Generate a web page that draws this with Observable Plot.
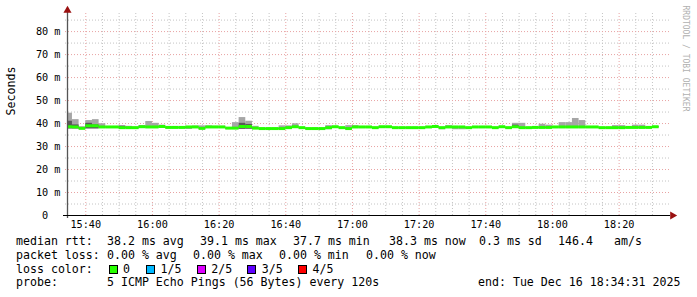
<!DOCTYPE html>
<html><head><meta charset="utf-8">
<script src="https://cdn.jsdelivr.net/npm/d3@7"></script>
<script src="https://cdn.jsdelivr.net/npm/@observablehq/plot@0.6"></script>
<style>
body{margin:0;background:#fff;}
#wrap{position:relative;width:697px;height:297px;overflow:hidden;font-family:"DejaVu Sans Mono",monospace;background:#fff;}
#wrap svg{position:absolute;left:0;top:0;}
.t{position:absolute;font-size:11.6px;line-height:14px;white-space:pre;color:#000;}
.sw{position:absolute;width:7px;height:7px;border:1px solid #000;}
</style></head><body><div id="wrap"></div>
<script>
// ---- data ----
const dayISO = "2025-12-16";
const firstStep = "15:34:00", lastStepEnd = "18:32:00", stepMinutes = 2;
const viewStart = "15:34:31", viewEnd = "18:34:31";

const rttMedian = [38.4,38.3,37.7,38.8,38.8,38.3,38.3,38.3,38.0,38.0,
 38.0,38.4,38.3,38.3,38.5,38.1,38.1,38.1,38.3,38.3,
 37.7,38.3,38.3,38.3,37.8,37.8,38.5,38.5,37.8,37.6,
 37.6,37.6,37.6,38.0,38.4,38.0,37.6,37.6,37.6,38.0,
 38.4,38.0,37.6,38.3,38.3,38.3,38.0,38.4,38.4,38.0,
 38.0,38.0,38.0,38.0,38.3,38.5,38.0,38.3,38.3,38.3,
 38.0,38.3,38.3,38.3,38.0,38.4,38.0,38.4,38.0,38.0,
 38.1,38.1,38.1,38.3,38.3,38.3,38.3,38.3,38.3,38.3,
 38.0,38.0,38.0,38.0,38.1,38.1,38.1,38.1,38.4];
const rttMax = [44.5,41.7,38.6,41.3,41.7,39.9,38.7,38.6,39.1,38.8,
 38.4,38.9,40.9,40.1,39.3,38.5,38.5,38.4,38.6,38.9,
 39.0,39.0,38.8,38.8,38.2,40.4,42.6,41.0,38.8,37.9,
 37.9,37.9,39.0,39.0,39.9,38.3,37.9,37.9,37.9,39.1,
 38.7,38.3,39.1,39.1,38.6,38.6,38.3,38.7,38.7,38.3,
 38.3,38.3,38.3,38.3,38.6,38.8,38.3,39.1,38.6,38.6,
 38.3,38.6,38.6,38.6,38.3,38.7,38.3,40.1,40.1,38.3,
 38.4,39.7,39.3,38.6,40.4,40.4,42.2,41.3,38.6,38.6,
 38.3,38.3,39.1,39.1,38.4,39.3,39.3,38.4,38.7];
const rttUpper = [41.0,39.4,37.9,40.1,39.4,38.5,38.5,38.5,38.8,38.2,
 38.2,38.9,38.5,38.5,38.7,38.3,38.3,38.3,38.5,38.5,
 37.9,38.5,38.5,38.5,38.0,38.0,40.1,39.6,38.0,37.8,
 37.8,37.8,37.8,38.2,38.6,38.2,37.8,37.8,37.8,38.2,
 38.6,38.2,37.8,38.5,38.5,38.5,38.2,38.6,38.6,38.2,
 38.2,38.2,38.2,38.2,38.5,38.7,38.2,38.5,38.5,38.5,
 38.2,38.5,38.5,38.5,38.2,38.6,38.2,39.3,38.2,38.2,
 38.3,38.3,38.3,38.5,38.5,38.5,38.5,38.5,38.5,38.5,
 38.2,38.2,38.2,38.2,38.3,38.3,38.3,38.3,38.6];
const rttLower = [37.7,37.7,37.5,37.7,37.7,38.1,38.1,38.1,37.8,37.8,
 37.8,38.2,38.1,38.1,38.3,37.9,37.9,37.9,37.7,38.1,
 37.5,38.1,38.1,38.1,37.6,37.6,37.5,37.6,37.6,37.4,
 37.4,37.4,37.4,37.8,38.2,37.8,37.4,37.4,37.4,37.8,
 38.2,37.8,37.4,38.1,38.1,38.1,37.8,38.2,38.2,37.8,
 37.8,37.8,37.8,37.8,38.1,38.3,37.8,38.1,38.1,38.1,
 37.8,38.1,38.1,38.1,37.8,38.2,37.8,38.2,37.8,37.8,
 37.9,37.9,37.9,38.1,38.1,38.1,38.1,38.1,38.1,38.1,
 37.8,37.8,37.8,37.8,37.9,37.9,37.9,37.9,38.2];
const rttMin = [37.6,37.6,37.4,37.6,37.6,37.9,37.9,37.9,37.6,37.6,
 37.6,38.0,37.9,37.9,38.1,37.7,37.7,37.7,37.6,37.9,
 37.3,37.9,37.9,37.9,37.4,37.4,37.4,37.4,37.4,37.2,
 37.2,37.2,37.2,37.6,38.0,37.6,37.2,37.2,37.2,37.3,
 38.0,37.6,37.2,37.9,37.9,37.9,37.6,38.0,38.0,37.6,
 37.6,37.6,37.6,37.6,37.9,38.1,37.3,37.9,37.3,37.3,
 37.6,37.9,37.9,37.9,37.6,38.0,37.6,38.0,37.6,37.6,
 37.7,37.7,37.7,37.9,37.9,37.9,37.9,37.9,37.9,37.9,
 37.6,37.6,37.6,37.6,37.7,37.7,37.7,37.7,38.0];

const yMajorTicks = [0,10,20,30,40,50,60,70,80];
const yMinorTicks = [5,15,25,35,45,55,65,75,85];
const xMajorTicks = ["15:40","16:00","16:20","16:40","17:00","17:20","17:40","18:00","18:20"];
const xMinorEvery = 5; // minutes
const yTitle = "Seconds";
const watermark = "RRDTOOL / TOBI OETIKER";

const rttLabel = "median rtt:";
const rttStats = ["38.2 ms avg","39.1 ms max","37.7 ms min","38.3 ms now","0.3 ms sd","146.4","am/s"];
const lossLabel = "packet loss:";
const lossStats = ["0.00 % avg","0.00 % max","0.00 % min","0.00 % now"];
const colorLabel = "loss color:";
const lossLabels = ["0","1/5","2/5","3/5","4/5"];
const lossColors = ["#26ff00","#00b8ff","#dd00ff","#5e00ff","#ff0000"];
const probeLabel = "probe:";
const probeText = "5 ICMP Echo Pings (56 Bytes) every 120s";
const endText = "end: Tue Dec 16 18:34:31 2025";

// ---- build ----
const T = s => new Date(`${dayISO}T${s}Z`);
const steps = d3.utcMinute.every(stepMinutes).range(T(firstStep), T(lastStepEnd));
const rows = steps.map((t, i) => ({
  t, t2: d3.utcMinute.offset(t, stepMinutes),
  med: rttMedian[i], max: rttMax[i], up: rttUpper[i], lo: rttLower[i], min: rttMin[i]
}));
const xDomain = [T(viewStart), T(viewEnd)];
const xMajor = xMajorTicks.map(s => T(s + ":00"));
const xMinor = d3.utcMinute.every(xMinorEvery).range(d3.utcMinute.offset(xDomain[0], 1), xDomain[1])
  .filter(d => !xMajor.some(m => +m === +d));
const band = 0.65; // half-height of the median band, in ms

const gridMinor = "#c4c4c4", gridMajor = "#e8a3a3";
const chart = Plot.plot({
  width: 697, height: 232,
  marginLeft: 67, marginRight: 30, marginTop: 15, marginBottom: 17,
  style: {fontFamily: "DejaVu Sans Mono", fontSize: "10.2px", background: "transparent", color: "#000", overflow: "visible"},
  x: {type: "utc", domain: xDomain},
  y: {domain: [0, 87]},
  marks: [
    Plot.ruleY(yMinorTicks, {stroke: gridMinor, strokeDasharray: "1,2", insetLeft: -2, insetRight: -2}),
    Plot.ruleX(xMinor, {stroke: gridMinor, strokeDasharray: "1,2", insetTop: -2}),
    Plot.ruleY(yMajorTicks.filter(d => d > 0), {stroke: gridMajor, strokeDasharray: "1,2", insetLeft: -2, insetRight: -2}),
    Plot.ruleX(xMajor, {stroke: gridMajor, strokeDasharray: "1,2", insetTop: -2}),
    Plot.rect(rows, {x1: "t", x2: "t2", y1: "min", y2: "max", fill: "#a6a6a6", inset: 0, clip: true}),
    Plot.rect(rows, {x1: "t", x2: "t2", y1: "lo", y2: "up", fill: "#585858", inset: 0, clip: true}),
    Plot.rect(rows, {x1: "t", x2: "t2", y1: d => d.med - band, y2: d => d.med + band, fill: lossColors[0], inset: 0, clip: true}),
    Plot.ruleX([xDomain[0]], {stroke: "#555", strokeWidth: 1.3, insetTop: -4, insetBottom: -3}),
    Plot.ruleY([0], {stroke: "#000", insetLeft: -4, insetRight: -3}),
    Plot.dot([xDomain[0]], {x: d => d, frameAnchor: "top", symbol: "triangle", r: 3, fill: "#9a1010", stroke: "none", dy: -5}),
    Plot.dot([0], {y: d => d, frameAnchor: "right", symbol: "triangle", rotate: 90, r: 3, fill: "#9a1010", stroke: "none", dx: 5}),
    Plot.axisY(yMajorTicks, {tickSize: 0, tickPadding: 7, fontSize: 10.2, tickFormat: d => d === 0 ? "0\u00a0\u00a0" : `${d} m`}),
    Plot.axisX(xMajor, {tickSize: 0, tickPadding: 5, fontSize: 10.2, tickFormat: d3.utcFormat("%H:%M")}),
    Plot.text([yTitle], {frameAnchor: "left", rotate: -90, dx: -56, fontSize: 11.6, fill: "#000"}),
    Plot.text([watermark], {frameAnchor: "top-right", rotate: 90, textAnchor: "start", dx: 21, dy: -10, fontSize: 8, fill: "#b0b0b0"})
  ]
});
const wrap = document.getElementById("wrap");
wrap.appendChild(chart);

// ---- legend text below the svg ----
function txt(x, cy, s) {
  const e = document.createElement("div");
  e.className = "t"; e.textContent = s;
  e.style.left = x + "px"; e.style.top = (cy - 7.5) + "px";
  wrap.appendChild(e);
}
const rowY = [241.7, 255.3, 269.3, 282.7];
const labelX = 16;
txt(labelX, rowY[0], rttLabel);
[107, 200, 293, 389, 479, 558, 614].forEach((x, i) => txt(x, rowY[0], rttStats[i]));
txt(labelX, rowY[1], lossLabel);
[107, 193, 279, 366].forEach((x, i) => txt(x, rowY[1], lossStats[i]));
txt(labelX, rowY[2], colorLabel);
[108.5, 146, 196.7, 247.3, 298].forEach((x, i) => {
  const s = document.createElement("div");
  s.className = "sw"; s.style.left = x + "px"; s.style.top = (rowY[2] - 4.5) + "px";
  s.style.background = lossColors[i];
  wrap.appendChild(s);
  txt(x + 14.5, rowY[2], lossLabels[i]);
});
txt(labelX, rowY[3], probeLabel);
txt(107, rowY[3], probeText);
txt(478, rowY[3], endText);
</script></body></html>
